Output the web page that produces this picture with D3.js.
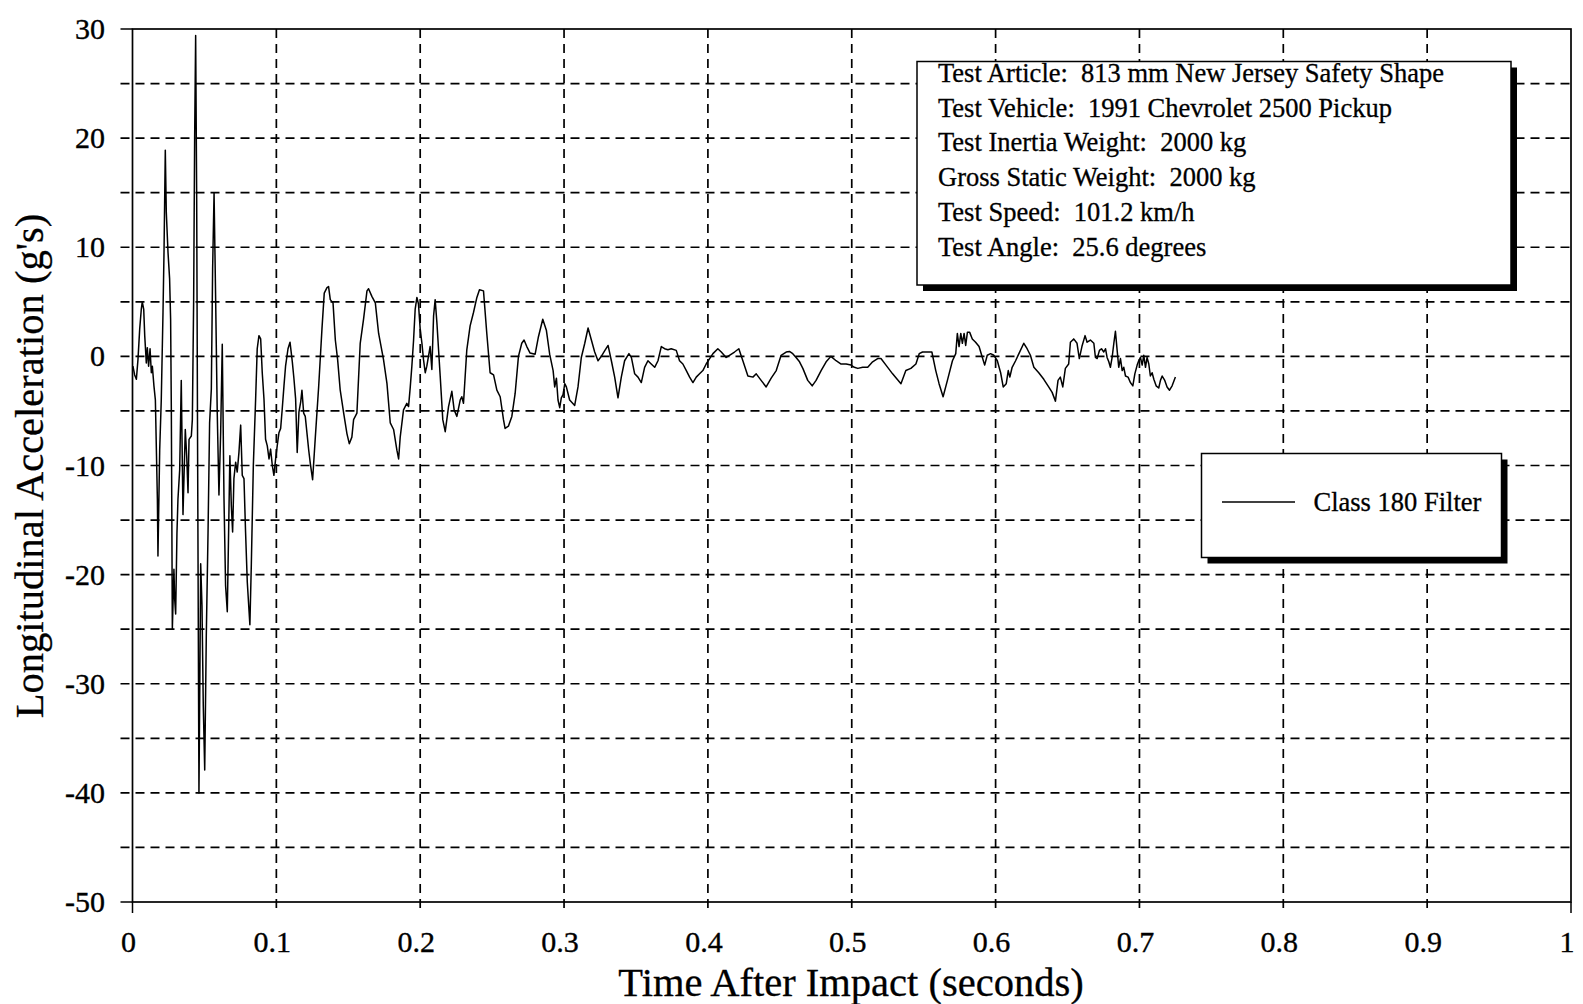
<!DOCTYPE html>
<html>
<head>
<meta charset="utf-8">
<script src="https://cdn.jsdelivr.net/npm/d3@7"></script>
<style>
  html, body { margin: 0; padding: 0; background: #fff; }
  svg { display: block; }
  text { font-family: "Liberation Serif", "Times New Roman", serif; fill: #000; }
</style>
</head>
<body>
<svg id="chart" width="1583" height="1004"></svg>
<script>
// ---- data (time in ms, acceleration in g's) ----
const timeMs = [
  0.3,1.5,2.7,3.8,5.0,6.1,6.8,7.8,8.5,9.6,10.3,11.2,12.2,13.1,13.8,14.9,15.9,17.3,17.7,18.9,
  20.0,21.2,21.9,22.8,23.5,24.7,25.8,26.5,27.0,27.7,28.8,29.3,30.0,30.9,31.6,32.8,33.9,35.1,36.7,37.7,
  38.6,39.3,40.9,41.6,42.5,43.2,43.9,44.6,45.3,46.2,46.9,47.4,48.3,49.2,50.2,51.3,52.5,53.6,54.8,55.7,
  56.7,57.8,58.9,60.1,61.3,62.4,63.6,64.7,65.9,67.0,67.7,68.7,69.6,70.5,71.7,72.8,74.0,75.2,76.3,77.5,
  78.6,79.8,81.6,82.6,84.0,85.6,86.7,87.9,89.1,90.2,91.4,92.5,93.7,94.9,96.0,97.2,98.3,99.5,100.6,101.8,
  103.0,104.1,105.3,106.4,108.1,109.5,111.1,112.2,113.4,114.5,115.7,116.9,117.8,119.0,120.1,122.5,123.6,125.2,127.1,129.4,
  131.7,133.3,135.2,136.3,137.5,139.4,141.0,142.6,144.4,146.8,149.1,150.7,152.5,153.7,156.0,158.3,160.6,163.0,164.1,166.4,
  168.8,171.1,174.5,176.9,179.2,181.5,183.8,185.0,186.1,188.4,190.7,191.9,193.1,194.2,195.4,196.5,197.7,198.8,200.0,201.2,
  202.3,203.5,204.6,206.9,208.1,209.3,210.4,211.6,213.9,215.7,217.4,219.7,222.0,223.6,225.5,227.8,228.9,230.1,232.4,234.7,
  237.0,239.4,241.2,244.0,246.3,248.6,251.0,253.3,255.6,257.9,259.0,261.3,263.7,266.0,268.3,270.6,272.2,274.1,276.4,279.9,
  282.2,285.2,287.7,290.0,292.4,293.5,294.7,295.8,297.0,298.1,299.3,300.5,301.6,303.9,307.4,309.7,312.0,314.4,316.7,319.0,
  321.3,323.6,325.9,328.2,330.6,332.9,335.2,337.5,339.8,342.1,345.1,346.8,349.1,351.4,353.7,356.0,358.3,360.6,363.0,365.3,
  367.6,369.9,372.2,374.5,378.0,380.3,382.6,385.0,387.3,389.6,391.9,394.2,396.5,398.8,401.2,403.5,406.9,409.3,412.7,415.0,
  418.5,421.5,424.3,427.8,431.3,433.6,437.0,440.5,444.0,447.5,450.9,454.4,456.7,459.0,461.3,463.7,466.0,469.4,472.5,475.2,
  478.7,482.2,485.5,489.1,492.6,496.1,499.5,501.8,504.2,507.6,511.1,514.5,518.0,520.3,523.8,528.4,534.2,537.6,541.1,544.6,
  546.9,549.2,552.7,555.7,558.4,560.7,563.5,566.5,570.0,572.3,573.4,574.6,575.8,576.9,578.1,579.2,580.4,582.0,583.8,586.1,
  588.5,590.8,592.4,594.2,596.5,598.8,601.2,603.5,605.3,607.4,608.8,609.9,611.5,613.9,616.2,619.6,621.9,624.2,626.6,630.0,
  633.5,636.9,639.3,641.6,643.4,645.0,646.7,648.5,650.8,652.0,654.3,656.6,658.2,660.0,662.2,663.6,665.9,668.3,669.4,670.6,
  672.2,673.6,675.2,676.4,677.5,678.7,679.8,681.0,682.2,683.3,684.5,685.6,686.8,688.0,689.1,690.3,692.1,693.7,695.4,696.8,
  698.4,699.5,700.7,701.9,703.0,704.2,705.3,706.5,707.6,708.8,710.0,711.6,713.4,714.6,715.8,717.6,719.2,720.9,722.7,725.0
];
const accelG = [
  -0.9,-1.7,-2.1,-0.3,2.5,4.3,5.0,4.3,1.9,-0.6,0.8,-0.9,0.7,-1.5,-0.9,-2.7,-4.0,-13.1,-18.3,-8.6,
  -4.0,4.0,9.5,18.9,13.2,9.5,7.1,3.4,-5.0,-25.0,-19.5,-22.2,-23.6,-16.2,-13.1,-10.4,-2.2,-14.5,-6.7,-9.2,
  -12.5,-7.6,-7.3,-5.8,5.0,20.0,29.4,15.0,-10.0,-40.0,-28.0,-19.0,-22.8,-32.0,-37.9,-25.6,-16.2,-6.1,-3.0,8.0,
  15.0,5.2,-5.1,-12.7,-6.9,1.1,-13.0,-21.0,-23.4,-14.6,-9.1,-13.7,-16.1,-11.2,-9.7,-10.6,-8.8,-6.3,-10.9,-11.2,
  -16.1,-20.7,-24.6,-19.1,-10.0,-3.9,0.7,1.9,1.6,-1.5,-3.9,-7.6,-8.2,-9.4,-8.5,-10.0,-10.9,-9.4,-8.2,-7.0,
  -6.6,-4.8,-2.7,-0.9,0.7,1.3,-0.5,-2.0,-3.9,-8.8,-5.1,-4.2,-3.1,-5.2,-5.5,-8.6,-9.8,-11.3,-7.4,-2.8,
  2.5,5.8,6.3,6.4,5.2,4.9,1.5,-0.3,-3.1,-5.2,-7.1,-8.0,-7.4,-5.8,-5.2,1.2,3.4,6.0,6.2,5.5,
  4.9,2.1,-0.3,-2.5,-6.1,-6.7,-8.6,-9.4,-7.4,-4.9,-4.3,-4.6,-2.8,-0.9,1.5,4.3,5.4,4.8,2.5,1.2,
  -0.3,-1.5,-0.9,0.9,-1.2,3.7,5.2,3.1,-1.8,-5.8,-6.9,-4.6,-3.2,-4.9,-5.5,-4.0,-3.7,-4.3,0.6,2.8,
  4.0,5.4,6.1,6.0,2.1,-1.5,-1.7,-3.1,-3.7,-5.8,-6.6,-6.4,-5.5,-3.4,0.0,1.2,1.5,0.9,0.3,0.2,
  1.8,3.4,2.4,0.2,-1.3,-2.8,-2.0,-4.0,-4.7,-3.8,-3.5,-2.5,-2.8,-4.0,-4.5,-2.8,-0.1,1.2,2.6,1.5,
  0.4,-0.4,0.0,0.5,1.0,-0.4,-1.9,-3.8,-1.9,-0.4,0.25,-0.1,-1.6,-1.9,-2.4,-1.0,-0.4,-0.7,-1.0,-0.4,
  0.9,0.7,0.6,0.7,0.55,-0.4,-0.7,-1.3,-1.9,-2.4,-1.9,-1.6,-1.3,-0.7,-0.2,0.25,0.7,0.4,-0.1,0.1,
  0.4,0.7,-0.4,-1.8,-1.9,-1.6,-2.2,-2.8,-2.0,-1.3,0.1,0.4,0.45,0.25,-0.1,-0.5,-1.1,-2.2,-2.7,-2.2,
  -1.3,-0.5,0.0,-0.4,-0.7,-0.7,-0.8,-1.0,-1.1,-1.0,-1.0,-0.5,-0.2,-0.2,-0.8,-1.6,-2.5,-1.3,-1.1,-0.7,
  0.25,0.4,0.4,0.4,-1.3,-2.5,-3.7,-2.2,-0.4,0.25,2.1,0.9,2.1,1.2,2.1,1.0,2.2,2.2,1.6,1.3,
  0.9,-0.1,-0.8,0.1,0.25,0.1,-0.4,-1.5,-2.8,-2.5,-1.3,-1.9,-1.0,-0.4,0.25,1.2,0.7,0.1,-1.0,-1.5,
  -2.1,-2.8,-3.3,-4.1,-2.2,-1.9,-2.8,-1.1,-0.7,1.3,1.6,1.2,-0.2,0.9,1.9,1.3,1.5,1.2,-0.1,-0.2,
  0.55,0.7,0.4,0.7,-0.1,-0.5,-1.0,-0.1,1.2,2.3,0.55,-1.0,-0.2,-1.3,-1.0,-1.8,-1.9,-2.4,-2.7,-1.6,
  -0.8,-0.4,-0.1,-0.8,0.1,-1.0,-0.1,-0.7,-1.8,-1.5,-2.1,-2.7,-2.9,-2.2,-1.8,-2.2,-2.8,-3.1,-2.7,-1.9
];
const xTickValues = [0,100,200,300,400,500,600,700,800,900,1000];
const xTickLabels = ["0","0.1","0.2","0.3","0.4","0.5","0.6","0.7","0.8","0.9","1"];
const yTickValues = [30,20,10,0,-10,-20,-30,-40,-50];
const yTickLabels = ["30","20","10","0","-10","-20","-30","-40","-50"];
const yGridValues = [25,20,15,10,5,0,-5,-10,-15,-20,-25,-30,-35,-40,-45];
const infoLines = [
  "Test Article:  813 mm New Jersey Safety Shape",
  "Test Vehicle:  1991 Chevrolet 2500 Pickup",
  "Test Inertia Weight:  2000 kg",
  "Gross Static Weight:  2000 kg",
  "Test Speed:  101.2 km/h",
  "Test Angle:  25.6 degrees"
];
const legendLabel = "Class 180 Filter";
const xTitle = "Time After Impact (seconds)";
const yTitle = "Longitudinal Acceleration (g's)";

// ---- layout ----
const L = 132.5, R = 1571, T = 29, B = 902;
const svg = d3.select("#chart");
const x = d3.scaleLinear().domain([0, 1000]).range([L, R]);
const y = d3.scaleLinear().domain([-50, 30]).range([B, T]);

const dash = "9,6";
// vertical grid lines (extend below axis as ticks)
svg.append("g").selectAll("line").data(xTickValues.slice(1, -1)).join("line")
  .attr("x1", d => x(d)).attr("x2", d => x(d))
  .attr("y1", T).attr("y2", B + 11)
  .attr("stroke", "#000").attr("stroke-width", 1.7).attr("stroke-dasharray", dash);
// ticks at 0 and 1
svg.append("g").selectAll("line").data([0, 1000]).join("line")
  .attr("x1", d => x(d)).attr("x2", d => x(d))
  .attr("y1", B).attr("y2", B + 11)
  .attr("stroke", "#000").attr("stroke-width", 1.5);
// horizontal grid lines (extend left of axis as ticks)
svg.append("g").selectAll("line").data(yGridValues).join("line")
  .attr("x1", L - 12).attr("x2", R)
  .attr("y1", d => y(d)).attr("y2", d => y(d))
  .attr("stroke", "#000").attr("stroke-width", 1.7).attr("stroke-dasharray", dash);
svg.append("g").selectAll("line").data([30, -50]).join("line")
  .attr("x1", L - 12).attr("x2", L)
  .attr("y1", d => y(d)).attr("y2", d => y(d))
  .attr("stroke", "#000").attr("stroke-width", 1.5);

// frame
svg.append("rect").attr("x", L).attr("y", T).attr("width", R - L).attr("height", B - T)
  .attr("fill", "none").attr("stroke", "#000").attr("stroke-width", 1.7);

// tick labels
svg.append("g").selectAll("text").data(yTickValues).join("text")
  .attr("x", 105).attr("y", d => y(d) + 10)
  .attr("text-anchor", "end").attr("font-size", 30)
  .attr("stroke", "#000").attr("stroke-width", 0.35)
  .text((d, i) => yTickLabels[i]);
svg.append("g").selectAll("text").data(xTickValues).join("text")
  .attr("x", d => x(d) - 4).attr("y", 952)
  .attr("text-anchor", "middle").attr("font-size", 30)
  .attr("stroke", "#000").attr("stroke-width", 0.35)
  .text((d, i) => xTickLabels[i]);

// axis titles
svg.append("text").attr("x", 851).attr("y", 996)
  .attr("text-anchor", "middle").attr("font-size", 40.5)
  .attr("stroke", "#000").attr("stroke-width", 0.3).text(xTitle);
svg.append("text").attr("transform", "translate(43,466) rotate(-90)")
  .attr("text-anchor", "middle").attr("font-size", 40.5)
  .attr("stroke", "#000").attr("stroke-width", 0.3).text(yTitle);

// signal
const pts = timeMs.map((t, i) => [t, accelG[i]]);
svg.append("path").datum(pts)
  .attr("d", d3.line().x(d => x(d[0])).y(d => y(d[1])))
  .attr("fill", "none").attr("stroke", "#000").attr("stroke-width", 1.5)
  .attr("stroke-linejoin", "round");

// info box with shadow
function shadowBox(bx, by, bw, bh) {
  svg.append("rect").attr("x", bx + 6).attr("y", by + 6).attr("width", bw).attr("height", bh).attr("fill", "#000");
  svg.append("rect").attr("x", bx).attr("y", by).attr("width", bw).attr("height", bh)
    .attr("fill", "#fff").attr("stroke", "#000").attr("stroke-width", 1.5);
}
shadowBox(917, 61.5, 594, 223.5);
svg.append("g").selectAll("text").data(infoLines).join("text")
  .attr("x", 938).attr("y", (d, i) => 82 + i * 34.7)
  .attr("font-size", 26.5).style("white-space", "pre")
  .attr("stroke", "#000").attr("stroke-width", 0.3)
  .text(d => d);

// legend
shadowBox(1201.5, 453.5, 300, 104);
svg.append("line").attr("x1", 1222).attr("x2", 1295).attr("y1", 502).attr("y2", 502)
  .attr("stroke", "#000").attr("stroke-width", 1.4);
svg.append("text").attr("x", 1313.5).attr("y", 511).attr("font-size", 26.5)
  .attr("stroke", "#000").attr("stroke-width", 0.3).text(legendLabel);
</script>
</body>
</html>
